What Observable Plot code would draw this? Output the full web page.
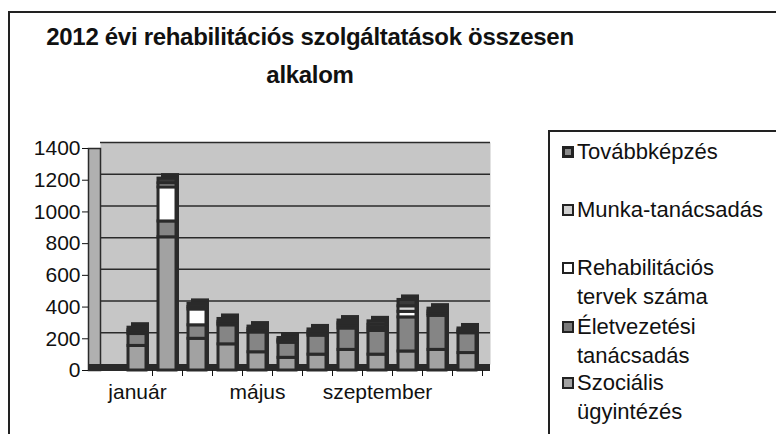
<!DOCTYPE html>
<html><head><meta charset="utf-8">
<script src="https://cdn.jsdelivr.net/npm/d3@7"></script>
<script src="https://cdn.jsdelivr.net/npm/@observablehq/plot@0.6"></script>
<style>
body{margin:0;background:#fff;}
#wrap{position:relative;width:776px;height:434px;overflow:hidden;background:#fff;font-family:"Liberation Sans",Arial,sans-serif;color:#111;}
#frameL{position:absolute;left:8px;top:11px;width:2px;height:430px;background:#222;}
#frameT{position:absolute;left:8px;top:11px;width:768px;height:2px;background:#222;}
#title{position:absolute;left:0;top:18px;width:620px;text-align:center;font-weight:bold;font-size:24px;line-height:38px;letter-spacing:-0.3px;}
#chart{position:absolute;left:0;top:120px;}
#legend{position:absolute;left:548px;top:130px;width:240px;height:320px;border-left:2px solid #222;border-top:2px solid #222;}
.item{position:absolute;left:12px;padding-left:15px;font-size:22px;line-height:29px;white-space:nowrap;}
.sw{position:absolute;left:0;top:9px;width:8px;height:8px;border:2px solid #222;}
</style></head>
<body>
<div id="wrap">
  <div id="chart"></div>
  <div id="frameL"></div><div id="frameT"></div>
  <div id="title">2012 évi rehabilitációs szolgáltatások összesen<br>alkalom</div>
  <div id="legend"></div>
</div>
<script>
const months = ["január","február","március","április","május","június","július","augusztus","szeptember","október","november","december"];
const seriesNames = ["Szociális ügyintézés","Életvezetési tanácsadás","Rehabilitációs tervek száma","Munka-tanácsadás","Továbbképzés"];
const szocialis    = [155, 840, 200, 165, 115,  80, 100, 130, 100, 120, 130, 110];
const eletvezetesi = [ 75, 100,  85, 120, 125,  95, 120, 135, 150, 215, 215, 125];
const rehab        = [ 12, 215, 100,  10,  10,   8,  12,  18,  18,  35,  12,   8];
const munka        = [ 12,  25,  15,  12,  12,  10,  12,  15,  20,  35,  15,  10];
const tovabb       = [ 16,  30,  20,  18,  15,  12,  15,  17,  22,  40,  18,  12];
const seriesValues = [szocialis, eletvezetesi, rehab, munka, tovabb];
const yTicks = [0, 200, 400, 600, 800, 1000, 1200, 1400];
const xLabels = ["január", "május", "szeptember"];
const colors = ["#a2a2a2", "#858585", "#ffffff", "#d6d6d6", "#3a3a3a"];
const legendFill = ["#a2a2a2", "#7a7a7a", "#ffffff", "#d0d0d0", "#8a8a8a"];
const legendOrder = ["Továbbképzés","Munka-tanácsadás","Rehabilitációs tervek száma","Életvezetési tanácsadás","Szociális ügyintézés"];
const legendLines = [["Továbbképzés"],["Munka-tanácsadás"],["Rehabilitációs","tervek száma"],["Életvezetési","tanácsadás"],["Szociális","ügyintézés"]];

const rows = [];
months.forEach((m, i) => seriesNames.forEach((s, j) => rows.push({month: m, series: s, value: seriesValues[j][i]})));
const totals = months.map((m, i) => ({month: m, total: d3.sum(seriesValues, v => v[i])}));

const dark = "#2a2a2a";
const chart = Plot.plot({
  width: 545, height: 314,
  marginTop: 28, marginBottom: 64, marginLeft: 88, marginRight: 55,
  style: {fontFamily: "Liberation Sans, Arial, sans-serif", fontSize: "21px", color: "#111", background: "transparent"},
  x: {domain: months, paddingInner: 0.4, paddingOuter: 0.2, round: false, insetLeft: 34, insetRight: 8, label: null},
  y: {domain: [0, 1400], label: null},
  color: {domain: seriesNames, range: colors},
  marks: [
    Plot.frame({fill: "#c6c6c6", stroke: "none", insetLeft: 12, dy: -6}),
    Plot.frame({fill: "#b0b0b0", stroke: dark, strokeWidth: 1.5, insetRight: 390}),
    Plot.ruleY(yTicks.slice(1), {stroke: dark, strokeWidth: 1.5, insetLeft: 12, dy: -6}),
    Plot.ruleY([0], {stroke: dark, strokeWidth: 7, dy: -3}),
    Plot.barY(totals, {x: "month", y: "total", fill: dark, dx: 3, dy: -5}),
    Plot.barY(rows, {x: "month", y: "value", fill: "series", stroke: dark, strokeWidth: 3}),
    Plot.axisY({ticks: yTicks, tickSize: 6, tickPadding: 2, fontSize: 21, label: null, tickFormat: d => String(d)}),
    Plot.axisX({ticks: months, tickSize: 6, tickFormat: () => "", dx: 15, label: null}),
    Plot.axisX({ticks: xLabels, tickSize: 0, tickPadding: 14, fontSize: 21, label: null})
  ]
});
document.getElementById("chart").appendChild(chart);

const legend = document.getElementById("legend");
const tops = [5, 63, 121, 180, 236];
legendOrder.forEach((name, k) => {
  const j = seriesNames.indexOf(name);
  const it = document.createElement("div");
  it.className = "item";
  it.style.top = tops[k] + "px";
  const sw = document.createElement("div");
  sw.className = "sw";
  sw.style.background = legendFill[j];
  if (name === "Továbbképzés") { sw.style.borderWidth = "3px"; sw.style.width = "6px"; sw.style.height = "6px"; }
  it.appendChild(sw);
  it.insertAdjacentHTML("beforeend", legendLines[k].join("<br>"));
  legend.appendChild(it);
});
</script>
</body></html>
